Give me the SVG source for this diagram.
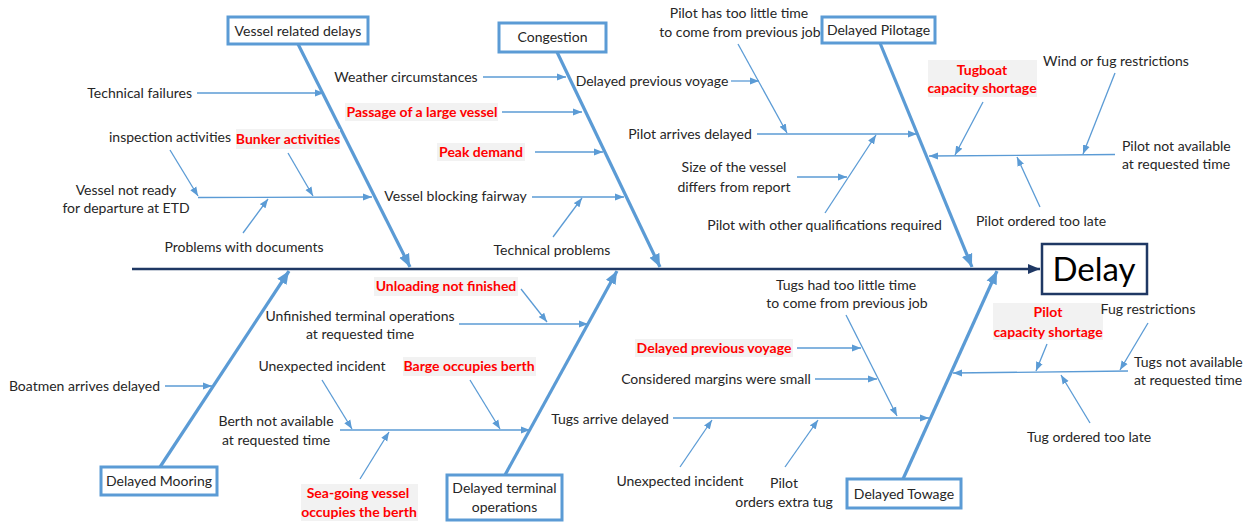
<svg xmlns="http://www.w3.org/2000/svg" width="1243" height="523" viewBox="0 0 1243 523">
<style>
text{font-family:Lato,"Open Sans","Liberation Sans",sans-serif;font-size:14px;fill:#262626}
.c{text-anchor:middle}.e{text-anchor:end}
.r{fill:#FF0000;font-weight:bold}
.bg{fill:#F2F2F2}
.box{fill:#fff;stroke:#5B9BD5;stroke-width:3}
.bone{stroke:#5B9BD5;stroke-width:3.2;fill:none;marker-end:url(#ah2)}
.sub{stroke:#5B9BD5;stroke-width:1.3;fill:none;marker-end:url(#ah1)}
.ln{stroke:#5B9BD5;stroke-width:1.3;fill:none}
</style>
<defs>
<marker id="ah1" markerUnits="userSpaceOnUse" markerWidth="10" markerHeight="8" refX="9" refY="4" orient="auto"><path d="M0,0.5 L9,4 L0,7.5 z" fill="#5B9BD5"/></marker>
<marker id="ah2" markerUnits="userSpaceOnUse" markerWidth="14" markerHeight="12" refX="13" refY="6" orient="auto"><path d="M0,0.5 L13,6 L0,11.5 z" fill="#5B9BD5"/></marker>
<marker id="ah3" markerUnits="userSpaceOnUse" markerWidth="14" markerHeight="12" refX="12" refY="6" orient="auto"><path d="M0,1 L12,6 L0,11 z" fill="#1F3864"/></marker>
</defs>
<rect width="1243" height="523" fill="#fff"/>

<g id="connectors">
<line x1="132" y1="269" x2="1040" y2="269" stroke="#1F3864" stroke-width="2.5" marker-end="url(#ah3)"/>
<line class="bone" x1="298" y1="44" x2="410" y2="267"/>
<line class="bone" x1="557" y1="52" x2="660" y2="267"/>
<line class="bone" x1="880" y1="43" x2="972" y2="267"/>
<line class="bone" x1="160" y1="467" x2="289" y2="271"/>
<line class="bone" x1="505" y1="475" x2="617" y2="271"/>
<line class="bone" x1="903" y1="479" x2="997" y2="271"/>
<!-- vessel related -->
<line class="sub" x1="197" y1="93" x2="324" y2="93"/>
<line class="sub" x1="198" y1="197.5" x2="372" y2="197"/>
<line class="sub" x1="170" y1="150" x2="198" y2="196"/>
<line class="sub" x1="288" y1="153" x2="313" y2="196"/>
<line class="sub" x1="243" y1="233" x2="268" y2="199"/>
<!-- congestion -->
<line class="sub" x1="483" y1="77" x2="566" y2="77"/>
<line class="sub" x1="502" y1="112" x2="582" y2="112"/>
<line class="sub" x1="535" y1="152" x2="603" y2="152"/>
<line class="sub" x1="532" y1="197" x2="624" y2="197"/>
<line class="sub" x1="553" y1="237" x2="582" y2="198"/>
<line class="sub" x1="731" y1="81" x2="759" y2="81"/>
<!-- pilotage -->
<line class="sub" x1="738" y1="44" x2="787" y2="133"/>
<line class="sub" x1="757" y1="134" x2="917" y2="134"/>
<line class="sub" x1="797" y1="177" x2="847" y2="177"/>
<line class="sub" x1="825" y1="213" x2="876" y2="135"/>
<line class="sub" x1="1115" y1="154.5" x2="929" y2="156"/>
<line class="sub" x1="983" y1="102" x2="955" y2="155"/>
<line class="sub" x1="1115" y1="73" x2="1083" y2="154"/>
<line class="sub" x1="1040" y1="207" x2="1017" y2="157"/>
<!-- mooring -->
<line class="sub" x1="165" y1="386" x2="212" y2="386"/>
<!-- terminal -->
<line class="sub" x1="459" y1="324" x2="588" y2="324"/>
<line class="sub" x1="521" y1="289" x2="547" y2="322"/>
<line class="sub" x1="340" y1="430" x2="530" y2="430"/>
<line class="sub" x1="322" y1="380" x2="352" y2="429"/>
<line class="sub" x1="470" y1="380" x2="500" y2="429"/>
<line class="sub" x1="360" y1="479" x2="389" y2="432"/>
<!-- towage -->
<line class="sub" x1="846" y1="315" x2="897" y2="416"/>
<line class="sub" x1="673" y1="418" x2="929" y2="418"/>
<line class="sub" x1="797" y1="348" x2="861" y2="348"/>
<line class="sub" x1="815" y1="379" x2="877" y2="379"/>
<line class="sub" x1="680" y1="467" x2="712" y2="420"/>
<line class="sub" x1="785" y1="467" x2="818" y2="420"/>
<line class="sub" x1="1128" y1="371" x2="953" y2="373"/>
<line class="sub" x1="1047" y1="344" x2="1036" y2="371"/>
<line class="sub" x1="1148" y1="323" x2="1120" y2="370"/>
<line class="sub" x1="1090" y1="423" x2="1061" y2="375"/>
</g>

<g id="delay">
<rect x="1042" y="244" width="105" height="50" fill="#fff" stroke="#1F3864" stroke-width="2.5"/>
<text class="c" x="1094" y="281" style="font-size:33px;fill:#000">Delay</text>
</g>

<g id="vessel-related-delays">
<rect class="box" x="228" y="17" width="140" height="27"/>
<text class="c" x="298" y="36">Vessel related delays</text>
<text class="e" x="192" y="98">Technical failures</text>
<text class="c" x="170" y="142">inspection activities</text>
<rect class="bg" x="236" y="129" width="104" height="20"/>
<text class="c r" x="288" y="144">Bunker activities</text>
<text class="c" x="126" y="195">Vessel not ready</text>
<text class="c" x="126" y="213">for departure at ETD</text>
<text class="c" x="244" y="252">Problems with documents</text>
</g>

<g id="congestion">
<rect class="box" x="499" y="23" width="107" height="29"/>
<text class="c" x="552.5" y="42">Congestion</text>
<text class="c" x="406" y="82">Weather circumstances</text>
<rect class="bg" x="345" y="103" width="153" height="18"/>
<text class="c r" x="422" y="117">Passage of a large vessel</text>
<rect class="bg" x="437" y="143" width="88" height="18"/>
<text class="c r" x="481" y="157">Peak demand</text>
<text class="c" x="455.5" y="201">Vessel blocking fairway</text>
<text class="c" x="552" y="255">Technical problems</text>
<text class="c" x="652" y="86">Delayed previous voyage</text>
</g>

<g id="delayed-pilotage">
<rect class="box" x="822" y="17" width="113" height="26"/>
<text class="c" x="878.5" y="35">Delayed Pilotage</text>
<text class="c" x="739" y="18">Pilot has too little time</text>
<text class="c" x="740" y="37">to come from previous job</text>
<text class="c" x="690" y="139">Pilot arrives delayed</text>
<text class="c" x="734" y="172">Size of the vessel</text>
<text class="c" x="734" y="192">differs from report</text>
<text class="c" x="824.5" y="230">Pilot with other qualifications required</text>
<rect class="bg" x="928" y="60" width="109" height="37"/>
<text class="c r" x="982" y="75">Tugboat</text>
<text class="c r" x="982" y="93">capacity shortage</text>
<text class="c" x="1116" y="66">Wind or fug restrictions</text>
<text x="1122" y="151">Pilot not available</text>
<text x="1122" y="169">at requested time</text>
<text class="c" x="1041" y="226">Pilot ordered too late</text>
</g>

<g id="delayed-mooring">
<rect class="box" x="101" y="467" width="116" height="28"/>
<text class="c" x="159" y="486">Delayed Mooring</text>
<text class="c" x="84.5" y="391">Boatmen arrives delayed</text>
</g>

<g id="delayed-terminal-operations">
<rect class="box" x="447" y="475" width="115" height="45"/>
<text class="c" x="504.5" y="493">Delayed terminal</text>
<text class="c" x="504.5" y="512">operations</text>
<rect class="bg" x="374" y="277" width="144" height="19"/>
<text class="c r" x="446" y="291">Unloading not finished</text>
<text class="c" x="360" y="321">Unfinished terminal operations</text>
<text class="c" x="360" y="339">at requested time</text>
<text class="c" x="322" y="371">Unexpected incident</text>
<rect class="bg" x="403" y="357" width="133" height="19"/>
<text class="c r" x="469" y="371">Barge occupies berth</text>
<text class="c" x="276" y="426">Berth not available</text>
<text class="c" x="276" y="445">at requested time</text>
<rect class="bg" x="301" y="484" width="117" height="37"/>
<text class="c r" x="358" y="498">Sea-going vessel</text>
<text class="c r" x="359" y="517">occupies the berth</text>
</g>

<g id="delayed-towage">
<rect class="box" x="847" y="479" width="114" height="29"/>
<text class="c" x="904" y="499">Delayed Towage</text>
<text class="c" x="846" y="290">Tugs had too little time</text>
<text class="c" x="847" y="308">to come from previous job</text>
<rect class="bg" x="635" y="339" width="158" height="18"/>
<text class="c r" x="714" y="353">Delayed previous voyage</text>
<text class="c" x="716" y="384">Considered margins were small</text>
<text class="c" x="610" y="424">Tugs arrive delayed</text>
<text class="c" x="680" y="486">Unexpected incident</text>
<text class="c" x="784" y="488">Pilot</text>
<text class="c" x="784" y="507">orders extra tug</text>
<rect class="bg" x="993" y="303" width="110" height="37"/>
<text class="c r" x="1048" y="317">Pilot</text>
<text class="c r" x="1048" y="337">capacity shortage</text>
<text class="c" x="1148" y="314">Fug restrictions</text>
<text x="1134" y="367">Tugs not available</text>
<text x="1134" y="385">at requested time</text>
<text class="c" x="1089" y="442">Tug ordered too late</text>
</g>
</svg>
